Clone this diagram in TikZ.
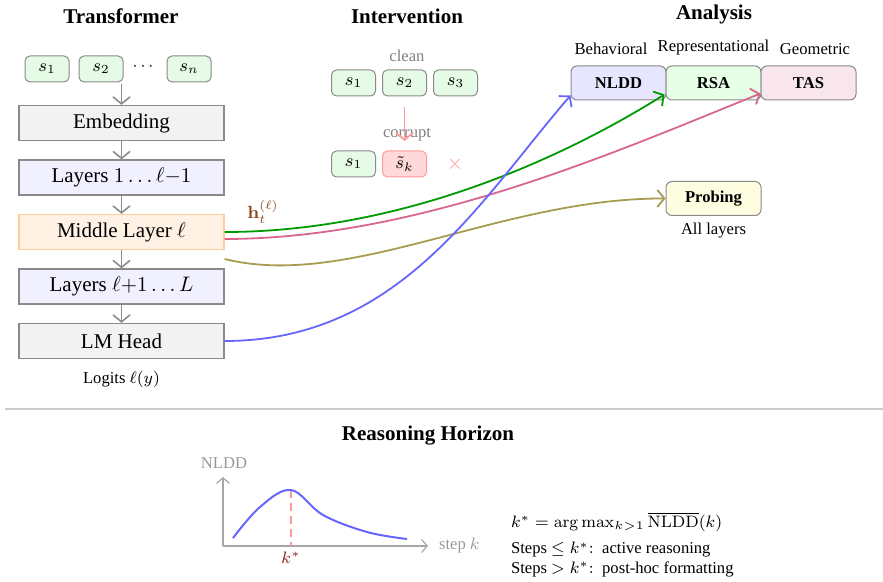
\RequirePackage{fix-cm}
\documentclass[tikz,border=0pt]{standalone}
\usepackage[no-math]{fontspec}
\setmainfont{Liberation Serif}
\usetikzlibrary{arrows.meta}
\definecolor{tokfill}{HTML}{E6FBE6}
\definecolor{boxline}{HTML}{8A8A8A}
\definecolor{embfill}{HTML}{F2F2F2}
\definecolor{layfill}{HTML}{F0F0FF}
\definecolor{midfill}{HTML}{FFF2E5}
\definecolor{midline}{HTML}{FFCC99}
\definecolor{nlddfill}{HTML}{E6E6FF}
\definecolor{rsafill}{HTML}{E6FFE6}
\definecolor{tasfill}{HTML}{F9E6EC}
\definecolor{probfill}{HTML}{FFFDE0}
\definecolor{redline}{HTML}{FF9999}
\definecolor{redfill}{HTML}{FFD9D9}
\definecolor{cblue}{HTML}{6666FF}
\definecolor{cgreen}{HTML}{009900}
\definecolor{cpink}{HTML}{D9668C}
\definecolor{colive}{HTML}{A89C50}
\definecolor{hbrown}{HTML}{8B4513}
\definecolor{kred}{HTML}{8B1A1A}
\newcommand\fbig{\fontsize{10.5}{12.5}\selectfont}
\newcommand\fsm{\fontsize{8.3}{10}\selectfont}
\newcommand\ftok{\fontsize{8.8}{10}\selectfont}
\newcommand\fcross{\fontsize{10.5}{12}\selectfont}
\begin{document}
\begin{tikzpicture}[x=0.5pt,y=-0.5pt,
  tip/.style={-{Straight Barb[length=3.5pt,width=8.5pt]}},
  smalltip/.style={-{Straight Barb[length=2.8pt,width=6.5pt]}},
  titlelbl/.style={font=\fbig\bfseries},
  smalllbl/.style={font=\fsm},
  tok/.style={draw=boxline, fill=tokfill, rounded corners=2.5pt, line width=0.5pt,
    minimum width=22pt, minimum height=13pt, inner sep=0pt, font=\ftok},
  layer/.style={draw=boxline, line width=0.6pt, minimum width=102.5pt, minimum height=17.5pt,
    inner sep=0pt, font=\fbig},
  abox/.style={draw=boxline, rounded corners=3pt, line width=0.5pt, minimum width=47.5pt,
    minimum height=17pt, inner sep=0pt, font=\fsm\bfseries},
  garrow/.style={tip, draw=gray!90, line width=0.8pt},
  curve/.style={tip, line width=0.9pt}]
\useasboundingbox (0,0) rectangle (883,582);

% ---------- Transformer ----------
\node[titlelbl] (ttitle) at (121,16) {Transformer};
\node[tok] (t1) at (47,69) {$s_1$};
\node[tok] (t2) at (101,69) {$s_2$};
\node[font=\fsm] (tdots) at (143,67) {$\cdots$};
\node[tok] (tn) at (189,69) {$s_n$};
\coordinate (tokbot) at (121.5,84);
\node[layer, fill=embfill] (emb) at (121.5,123) {Embedding};
\node[layer, fill=layfill] (l1) at (121.5,177.5) {Layers $1\ldots\ell{-}1$};
\node[layer, fill=midfill, draw=midline] (mid) at (121.5,232) {Middle Layer $\ell$};
\node[layer, fill=layfill] (l2) at (121.5,286.5) {Layers $\ell{+}1\ldots L$};
\node[layer, fill=embfill] (head) at (121.5,341) {LM Head};
\node[smalllbl] (logits) at (121.5,379) {Logits $\ell(y)$};
\draw[garrow] (tokbot) -- (emb);
\draw[garrow] (emb) -- (l1);
\draw[garrow] (l1) -- (mid);
\draw[garrow] (mid) -- (l2);
\draw[garrow] (l2) -- (head);
\node[text=hbrown, font=\ftok] (hlbl) at (263,212) {$\mathbf{h}_t^{(\ell)}$};

% ---------- Intervention ----------
\node[titlelbl] (ititle) at (407,16) {Intervention};
\node[smalllbl, text=gray] (clean) at (407,56) {clean};
\node[tok] (c1) at (353.5,83) {$s_1$};
\node[tok] (c2) at (404.5,83) {$s_2$};
\node[tok] (c3) at (455.5,83) {$s_3$};
\node[smalllbl, text=gray] (corrupt) at (407,135) {corrupt};
\node[tok] (r1) at (353.5,164) {$s_1$};
\node[tok, fill=redfill, draw=redline] (rk) at (404.5,164) {$\tilde{s}_k$};
\node[text=redline, font=\fcross] (cross) at (455,164) {$\times$};
\coordinate (iarrs) at (404.5,107);
\coordinate (iarre) at (404.5,141);
\draw[tip, draw=redline, line width=0.9pt] (iarrs) -- (iarre);

% ---------- Analysis ----------
\node[titlelbl] (atitle) at (714,14) {Analysis};
\node[abox, fill=nlddfill] (nldd) at (618.5,83) {NLDD};
\node[abox, fill=rsafill] (rsa) at (713.5,83) {RSA};
\node[abox, fill=tasfill] (tas) at (808.5,83) {TAS};
\node[smalllbl] (behav) at (611,49) {Behavioral};
\node[smalllbl] (repr) at (713.5,48) {Representational};
\node[smalllbl] (geom) at (815,49) {Geometric};
\node[abox, fill=probfill] (prob) at (713.5,198.5) {Probing};
\node[smalllbl] (alll) at (713.5,231) {All layers};

% ---------- Curves ----------
\draw[curve, cgreen] (mid.east) .. controls (400,232) and (560,160) .. ([xshift=-0.5pt,yshift=3pt]rsa.south west);
\draw[curve, cpink] ([yshift=-3.5pt]mid.east) .. controls (420,239) and (620,150) .. ([yshift=3.5pt]tas.south west);
\draw[curve, colive] ([yshift=-13.5pt]mid.east) .. controls (350,290) and (500,198) .. (prob.west);
\draw[curve, cblue] (head.east) .. controls (400,341) and (480,200) .. ([yshift=2.5pt]nldd.south west);

% ---------- separator ----------
\coordinate (sepl) at (5,409);
\coordinate (sepr) at (883,409);
\draw[gray!40, line width=1pt] (sepl) -- (sepr);

% ---------- Reasoning Horizon ----------
\node[titlelbl] (rtitle) at (428,436) {Reasoning Horizon};
\coordinate (orig) at (223,546);
\coordinate (ytop) at (223,477);
\coordinate (xend) at (428,546);
\draw[smalltip, draw=gray!70, line width=0.6pt] (orig) -- (ytop);
\draw[smalltip, draw=gray!70, line width=0.6pt] (orig) -- (xend);
\node[smalllbl, text=gray!80] (ylbl) at (224,463) {NLDD};
\node[smalllbl, text=gray!80, anchor=west] (xlbl) at (432,546) {step $k$};
\draw[redline, dash pattern=on 4pt off 2.5pt, line width=0.6pt] (291,490) -- (291,546);
\draw[cblue, line width=1pt] plot[smooth, tension=0.6] coordinates {(233,538) (260,507) (291,490) (323,515) (367,532) (407,539)};
\node[text=kred, font=\fsm] (kstar) at (291,558) {$k^*$};

\node[smalllbl, anchor=west] (eq) at (504,522) {$k^* = \arg\max_{k>1} \overline{\mathrm{NLDD}}(k)$};
\node[smalllbl, anchor=west] (s1l) at (504,550) {Steps $\leq k^*\colon$\enspace active reasoning};
\node[smalllbl, anchor=west] (s2l) at (504,569) {Steps $> k^*\colon$\enspace post-hoc formatting};
\end{tikzpicture}
\end{document}
